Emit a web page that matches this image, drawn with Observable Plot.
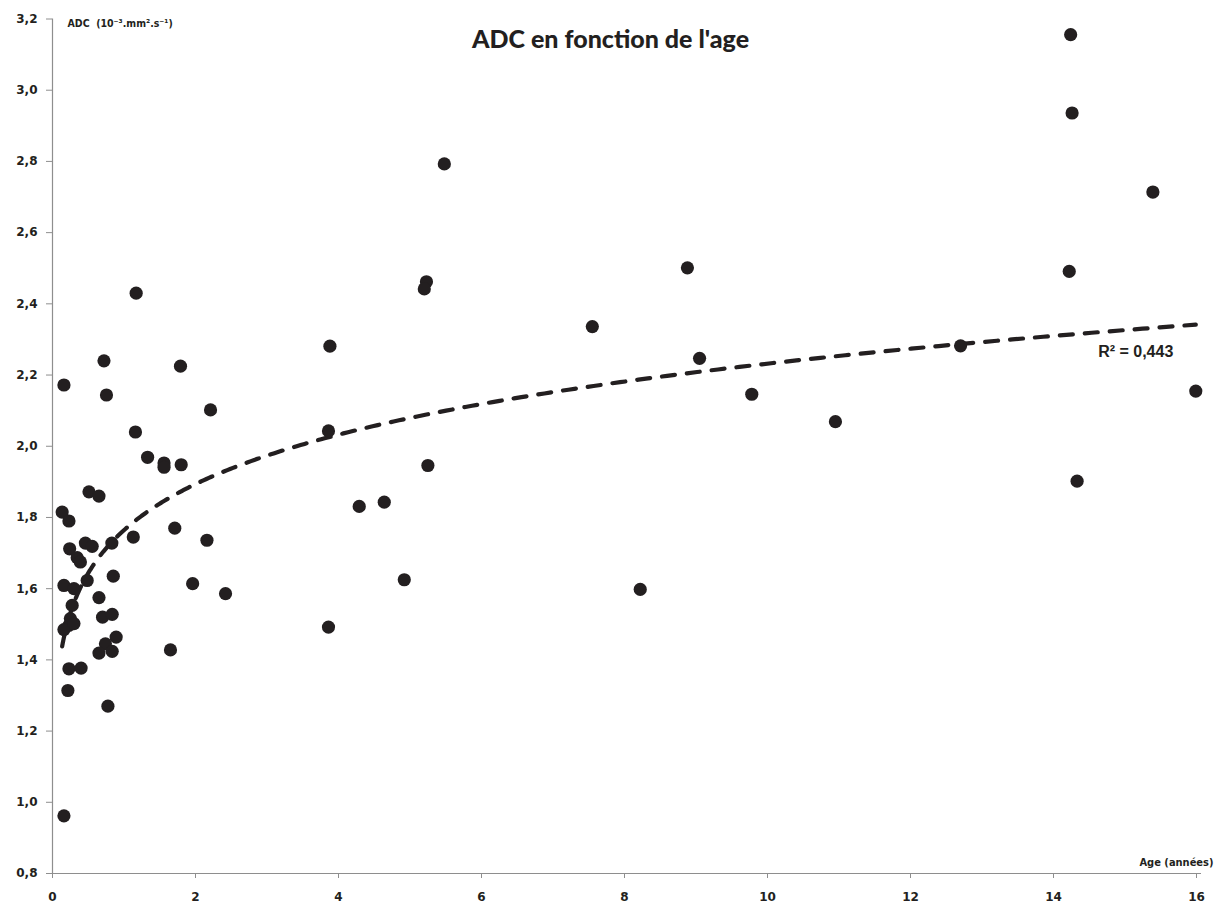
<!DOCTYPE html>
<html>
<head>
<meta charset="utf-8">
<script src="https://cdn.jsdelivr.net/npm/d3@7"></script>
<script src="https://cdn.jsdelivr.net/npm/@observablehq/plot@0.6"></script>
<style>
  html, body { margin: 0; padding: 0; background: #fff; }
  #chart svg g[aria-label="y-axis tick"], #chart svg g[aria-label="x-axis tick"] { stroke: #8e8e8e; }
</style>
</head>
<body>
<div id="chart"></div>
<script>
// Data
const ages = [
  0.16,0.72,0.755,1.17,1.79,2.21,1.16,1.33,1.56,1.56,
  1.80,0.51,0.65,0.135,0.23,1.13,1.71,2.16,0.24,0.46,
  0.555,0.83,0.345,0.39,0.16,0.30,0.485,0.85,1.96,2.42,
  0.65,0.275,0.25,0.23,0.16,0.30,0.70,0.835,0.89,0.74,
  0.65,0.835,1.65,0.23,0.40,0.215,0.775,0.16,
  3.88,3.86,3.86,4.29,4.64,4.92,5.25,5.23,5.20,5.48,
  7.55,8.22,8.88,9.05,9.78,10.95,12.70,14.24,14.26,14.22,
  14.33,15.39,15.99
];
const adcValues = [
  2.172,2.240,2.144,2.430,2.225,2.102,2.040,1.969,1.953,1.941,
  1.948,1.872,1.860,1.815,1.790,1.745,1.770,1.736,1.712,1.728,
  1.719,1.728,1.687,1.675,1.609,1.600,1.623,1.635,1.614,1.586,
  1.575,1.553,1.516,1.497,1.485,1.502,1.520,1.528,1.464,1.445,
  1.419,1.424,1.428,1.375,1.377,1.314,1.270,0.962,
  2.281,2.043,1.492,1.831,1.843,1.625,1.946,2.462,2.442,2.793,
  2.336,1.598,2.501,2.247,2.146,2.069,2.282,3.156,2.936,2.491,
  1.902,2.714,2.155
];
const xTicks = [0, 2, 4, 6, 8, 10, 12, 14, 16];
const yTicks = [0.8, 1.0, 1.2, 1.4, 1.6, 1.8, 2.0, 2.2, 2.4, 2.6, 2.8, 3.0, 3.2];
const titleText = "ADC en fonction de l'age";
const yLabel = "ADC  (10\u207B\u00B3.mm\u00B2.s\u207B\u00B9)";
const xLabel = "Age (années)";
const r2Label = "R\u00B2 = 0,443";

const points = ages.map((a, i) => ({age: a, adc: adcValues[i]}));

// Power trendline (least squares on ln-ln), as a spreadsheet would compute it
const n = points.length;
const lx = points.map(d => Math.log(d.age)), ly = points.map(d => Math.log(d.adc));
const sx = d3.sum(lx), sy = d3.sum(ly);
const sxx = d3.sum(lx, v => v * v), sxy = d3.sum(lx.map((v, i) => v * ly[i]));
const c = (n * sxy - sx * sy) / (n * sxx - sx * sx);
const b = Math.exp((sy - c * sx) / n);
const xmin = d3.min(ages), xmax = d3.max(ages);
const trend = d3.range(301).map(i => {
  const x = xmin * Math.pow(xmax / xmin, i / 300);
  return {age: x, adc: b * Math.pow(x, c)};
});

const fmt = d => d3.format(".1f")(d).replace(".", ",");
const ink = "#231f20";

const chart = Plot.plot({
  width: 1222,
  height: 912,
  marginLeft: 52,
  marginRight: 26,
  marginTop: 18.5,
  marginBottom: 39,
  style: {fontFamily: "DejaVu Sans", color: ink, background: "#fff"},
  x: {domain: [0, 16], axis: null},
  y: {domain: [0.8, 3.2], axis: null},
  marks: [
    Plot.ruleX([0], {y1: 0.8, y2: 3.2, stroke: "#8e8e8e", strokeWidth: 1.2}),
    Plot.ruleY([0.8], {x1: 0, x2: 16.07, stroke: "#8e8e8e", strokeWidth: 1.2}),
    Plot.axisY({ticks: yTicks, tickSize: 6, tickPadding: 9, tickFormat: fmt, label: null,
      fontSize: 12, fontWeight: "bold", fill: ink}),
    Plot.axisX({ticks: xTicks, tickSize: 5, tickPadding: 14, tickFormat: d => String(d), label: null,
      fontSize: 12, fontWeight: "bold", fill: ink}),
    Plot.line(trend, {x: "age", y: "adc", stroke: ink, strokeWidth: 4.2,
      strokeDasharray: "13,12", strokeLinecap: "round", curve: "linear"}),
    Plot.dot(points, {x: "age", y: "adc", r: 6.6, fill: ink, stroke: null}),
    Plot.text([titleText], {frameAnchor: "top", dx: -14, dy: 28.5, lineAnchor: "bottom",
      fontFamily: "Lato", fontWeight: 900, fontSize: 25, fill: ink, ariaLabel: "title"}),
    Plot.text([yLabel], {frameAnchor: "top-left", dx: 15, dy: 8, textAnchor: "start", lineAnchor: "bottom",
      fontFamily: "DejaVu Sans Condensed", fontWeight: "bold", fontSize: 10.5, fill: ink, ariaLabel: "ytitle"}),
    Plot.text([xLabel], {frameAnchor: "bottom-right", dx: 17, dy: -8, textAnchor: "end", lineAnchor: "bottom",
      fontFamily: "DejaVu Sans Condensed", fontWeight: "bold", fontSize: 11, fill: ink, ariaLabel: "xtitle"}),
    Plot.text([r2Label], {x: 15.15, y: 2.251, lineAnchor: "bottom",
      fontFamily: "Liberation Sans", fontWeight: "bold", fontSize: 16, fill: ink, ariaLabel: "r2"})
  ]
});

document.getElementById("chart").appendChild(chart);

const svg = d3.select(chart);
svg.select('g[aria-label="title"] text').attr("textLength", 306).attr("lengthAdjust", "spacingAndGlyphs");
svg.select('g[aria-label="ytitle"] text').attr("textLength", 136).attr("lengthAdjust", "spacingAndGlyphs");
svg.select('g[aria-label="xtitle"] text').attr("textLength", 90).attr("lengthAdjust", "spacingAndGlyphs");
svg.select('g[aria-label="r2"] text').attr("textLength", 81).attr("lengthAdjust", "spacingAndGlyphs");
</script>
</body>
</html>
